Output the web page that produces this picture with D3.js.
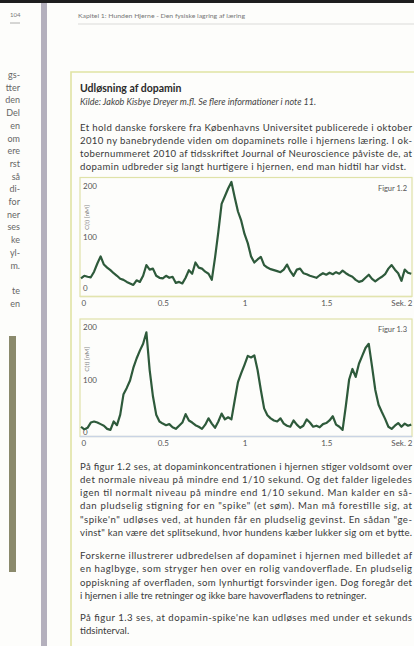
<!DOCTYPE html>
<html>
<head>
<meta charset="utf-8">
<script src="https://cdn.jsdelivr.net/npm/d3@7"></script>
<style>
  html, body { margin: 0; padding: 0; background: #fdfdfb; }
  svg { display: block; }
</style>
</head>
<body>
<div id="page"></div>
<script>
const width = 414;
const height = 646;

// trace sampling interval in seconds
const sampleStep = 0.02;

// Figur 1.2 - one dopamine spike, C(t) in nM, one value per 0.02 s
const fig12Values = [
  19, 24, 22, 21, 32, 48, 62, 46, 40, 35,
  29, 24, 18, 16, 12, 9, 6, 15, 12, 24,
  45, 36, 38, 24, 20, 19, 24, 20, 22, 10,
  12, 9, 20, 35, 28, 50, 40, 38, 32, 28,
  16, 60, 110, 165, 180, 195, 208, 178, 150, 132,
  106, 88, 62, 50, 56, 61, 45, 40, 37, 35,
  33, 31, 36, 46, 33, 24, 36, 38, 29, 27,
  24, 22, 20, 25, 29, 26, 30, 27, 31, 28,
  34, 29, 25, 22, 16, 12, 14, 20, 26, 18,
  13, 18, 22, 27, 38, 45, 36, 29, 14, 36,
  30, 28
];

// Figur 1.3 - three spikes under a second apart
const fig13Values = [
  10, 5, 8, 18, 20, 18, 15, 12, 6, 4,
  20, 13, 33, 72, 84, 98, 122, 140, 155, 168,
  190, 118, 68, 33, 20, 16, 13, 15, 9, 6,
  12, 18, 34, 22, 18, 13, 10, 6, 14, 26,
  16, 8, 20, 35, 24, 28, 24, 60, 95, 112,
  128, 145, 142, 146, 118, 80, 45, 32, 26, 22,
  20, 26, 16, 12, 10, 22, 14, 8, 12, 24,
  18, 10, 12, 9, 15, 17, 22, 30, 14, 10,
  4, 50, 100, 120, 105, 130, 145, 160, 168, 125,
  80, 52, 38, 25, 10, 6, 12, 17, 10, 16,
  12, 14
];

const xTicks = [0, 0.5, 1, 1.5, 2];
const xTickLabels = ["0", "0.5", "1", "1.5", "Sek. 2"];
const yTicks = [0, 100, 200];
const yTitle = "C(t) [nM]";

const headerText = "Kapitel 1: Hunden Hjerne - Den fysiske lagring af læring";
const pageNumber = "104";
const boxTitle = "Udløsning af dopamin";
const boxSource = "Kilde: Jakob Kisbye Dreyer m.fl. Se flere informationer i note 11.";

const para1 = [
  "Et hold danske forskere fra Københavns Universitet publicerede i oktober",
  "2010 ny banebrydende viden om dopaminets rolle i hjernens læring. I ok-",
  "tobernummeret 2010 af tidsskriftet Journal of Neuroscience påviste de, at",
  "dopamin udbreder sig langt hurtigere i hjernen, end man hidtil har vidst."
];
const para2 = [
  "På figur 1.2 ses, at dopaminkoncentrationen i hjernen stiger voldsomt over",
  "det normale niveau på mindre end 1/10 sekund. Og det falder ligeledes",
  "igen til normalt niveau på mindre end 1/10 sekund. Man kalder en så-",
  "dan pludselig stigning for en \"spike\" (et søm). Man må forestille sig, at",
  "\"spike'n\" udløses ved, at hunden får en pludselig gevinst. En sådan \"ge-",
  "vinst\" kan være det splitsekund, hvor hundens kæber lukker sig om et bytte."
];
const para3 = [
  "Forskerne illustrerer udbredelsen af dopaminet i hjernen med billedet af",
  "en haglbyge, som stryger hen over en rolig vandoverflade. En pludselig",
  "oppiskning af overfladen, som lynhurtigt forsvinder igen. Dog foregår det",
  "i hjernen i alle tre retninger og ikke bare havoverfladens to retninger."
];
const para4 = [
  "På figur 1.3 ses, at dopamin-spike'ne kan udløses med under et sekunds",
  "tidsinterval."
];

// bits of the facing page that show in the left margin
const marginFragments = ["gs-", "tter", "den", "Del", "en", "om", "ere", "rst", "så",
  "di-", "for", "ner", "ses", "ke", "yl-", "m.", "", "te", "en"];

const svg = d3.select("#page")
  .append("svg")
  .attr("width", width)
  .attr("height", height)
  .style("font-family", "Lato, 'Open Sans', sans-serif");

// page furniture
svg.append("rect").attr("x", 0).attr("y", 0).attr("width", width).attr("height", 3).attr("fill", "#1e1e1e");
svg.append("rect").attr("x", 41).attr("y", 3).attr("width", 6).attr("height", height).attr("fill", "#b4b0bd");
svg.append("rect").attr("x", 9).attr("y", 336).attr("width", 7).attr("height", 236).attr("fill", "#8b8a6c");

svg.append("text").attr("x", 10).attr("y", 17)
  .attr("font-size", 6).attr("fill", "#777").text(pageNumber);
svg.append("line").attr("x1", 10).attr("x2", 20).attr("y1", 23).attr("y2", 23)
  .attr("stroke", "#999").attr("stroke-width", 0.8);

svg.append("text").attr("x", 78).attr("y", 18)
  .attr("font-size", 6.5).attr("fill", "#777")
  .attr("textLength", 167).attr("lengthAdjust", "spacingAndGlyphs")
  .text(headerText);
svg.append("line").attr("x1", 78).attr("x2", width).attr("y1", 24).attr("y2", 24)
  .attr("stroke", "#d2d2d2").attr("stroke-width", 0.8);

svg.append("g")
  .selectAll("text")
  .data(marginFragments)
  .join("text")
  .attr("x", 20)
  .attr("y", (d, i) => 78 + i * 12.7)
  .attr("text-anchor", "end")
  .attr("font-size", 9)
  .attr("fill", "#666")
  .text(d => d);

// the boxed article
svg.append("path")
  .attr("d", `M${width},72 H71 V${height}`)
  .attr("fill", "none")
  .attr("stroke", "#e0e3a4")
  .attr("stroke-width", 1.6);

svg.append("text").attr("x", 80).attr("y", 92)
  .attr("font-size", 10.5).attr("font-weight", 700).attr("fill", "#2a2a2a")
  .text(boxTitle);
svg.append("text").attr("x", 80).attr("y", 105)
  .attr("font-size", 9).attr("font-style", "italic").attr("fill", "#444")
  .text(boxSource);

function drawParagraph(lines, y0, lineHeight, widths) {
  svg.append("g")
    .selectAll("text")
    .data(lines)
    .join("text")
    .attr("x", 80)
    .attr("y", (d, i) => y0 + i * lineHeight)
    .attr("font-size", 9.6)
    .attr("fill", "#3a3a3a")
    .attr("textLength", (d, i) => widths[i])
    .attr("lengthAdjust", "spacing")
    .text(d => d);
}

drawParagraph(para1, 131, 13, [332, 332, 332, 326]);
drawParagraph(para2, 469.5, 13.3, [332, 332, 332, 332, 332, 332]);
drawParagraph(para3, 559, 13.3, [332, 332, 332, null]);
drawParagraph(para4, 621, 13.3, [332, null]);

// the two traces
const x = d3.scaleLinear().domain([0, 2]).range([81, 408]);

function drawChart(values, top, bottom, yZero, yTop, figLabel, bottomColor) {
  const y = d3.scaleLinear().domain([0, 200]).range([yZero, yTop]);
  const g = svg.append("g");

  g.append("rect")
    .attr("x", 80).attr("y", top)
    .attr("width", 332).attr("height", bottom - top)
    .attr("fill", "none").attr("stroke", "#dfe2a8").attr("stroke-width", 1.2);
  g.append("line")
    .attr("x1", 80).attr("x2", 412).attr("y1", bottom).attr("y2", bottom)
    .attr("stroke", bottomColor).attr("stroke-width", 1.4);

  const yAxis = g.append("g")
    .attr("transform", "translate(81,0)")
    .call(d3.axisRight(y).tickValues(yTicks).tickSize(0).tickPadding(2).tickFormat(d3.format("d")));
  yAxis.select(".domain").remove();
  yAxis.selectAll("text").attr("font-size", 8).attr("fill", "#555").attr("font-family", "Lato, sans-serif");

  const xAxis = g.append("g")
    .attr("transform", `translate(0,${bottom + 3.5})`)
    .call(d3.axisBottom(x).tickValues(xTicks).tickSize(0).tickPadding(0)
      .tickFormat((d, i) => xTickLabels[i]));
  xAxis.select(".domain").remove();
  xAxis.selectAll("text")
    .attr("font-size", 8).attr("fill", "#555").attr("font-family", "Lato, sans-serif")
    .attr("text-anchor", (d, i) => i === 0 ? "start" : (i === xTicks.length - 1 ? "end" : "middle"))
    .attr("dx", (d, i) => i === xTicks.length - 1 ? 4 : 0);

  g.append("text")
    .attr("transform", `translate(89,${(y(100) + y(200)) / 2 + 6}) rotate(-90)`)
    .attr("text-anchor", "middle")
    .attr("font-size", 6.5).attr("fill", "#888")
    .text(yTitle);

  g.append("text")
    .attr("x", 407).attr("y", top + 13)
    .attr("text-anchor", "end")
    .attr("font-size", 7.5).attr("fill", "#555")
    .text(figLabel);

  const line = d3.line()
    .x((d, i) => x(i * sampleStep))
    .y(d => y(d));

  g.append("path")
    .datum(values)
    .attr("d", line)
    .attr("fill", "none")
    .attr("stroke", "#2e5a3b")
    .attr("stroke-width", 2.2)
    .attr("stroke-linejoin", "round");
}

drawChart(fig12Values, 177.5, 296.5, 288, 186, "Figur 1.2", "#e2e4ae");
drawChart(fig13Values, 319, 436.5, 432, 327, "Figur 1.3", "#c9d4e4");
</script>
</body>
</html>
